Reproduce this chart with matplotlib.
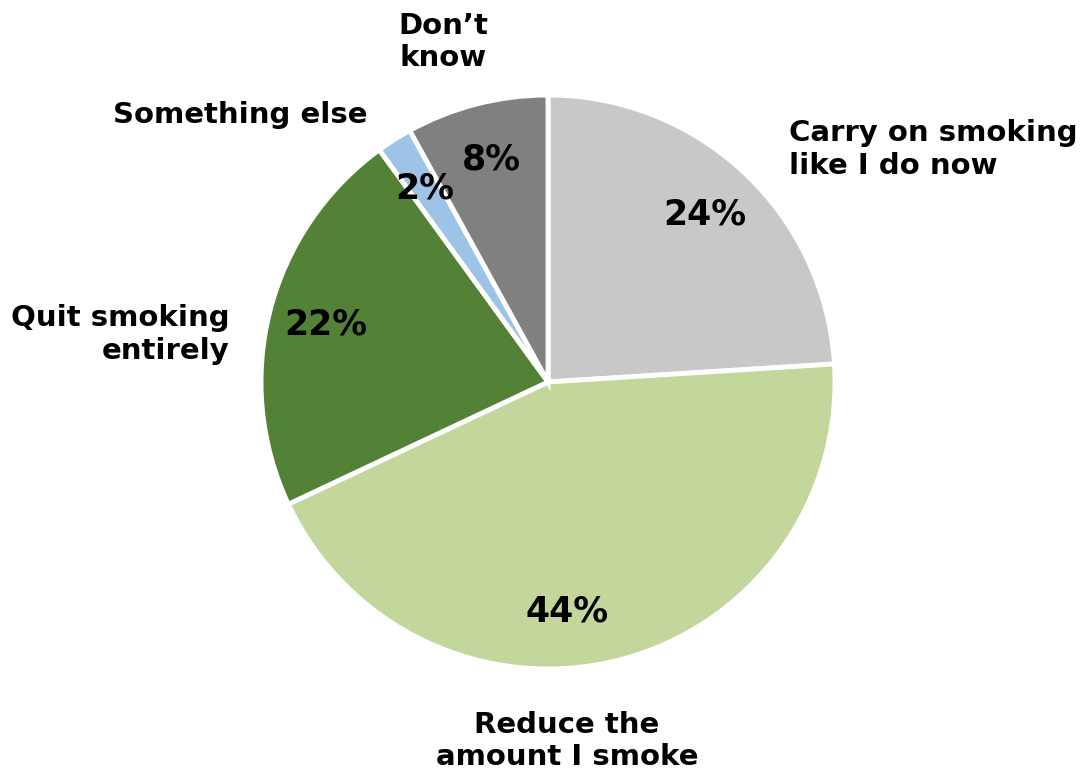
import matplotlib
matplotlib.use("Agg")
import matplotlib.pyplot as plt

plt.rcParams["font.family"] = ["DejaVu Sans"]

labels = ["Carry on smoking\nlike I do now", "Reduce the\namount I smoke",
          "Quit smoking\nentirely", "Something else", "Don\u2019t\nknow"]
shares = [24, 44, 22, 2, 8]
colors = ["#c8c8c8", "#c3d69b", "#538135", "#9dc3e6", "#808080"]

# label placement, in units of pie radius (x, y, ha)
label_pos = [(0.84, 0.81, "left"), (0.066, -1.25, "center"), (-1.11, 0.165, "right"),
             (-0.63, 0.93, "right"), (-0.366, 1.185, "center")]

fig = plt.figure(figsize=(10.84, 7.71), dpi=100)
ax = fig.add_axes([0.2408, 0.1323, 0.5295, 0.7445])

wedges, texts, autotexts = ax.pie(
    shares, colors=colors, startangle=90, counterclock=False, radius=1,
    autopct="%d%%", pctdistance=0.80,
    wedgeprops=dict(edgecolor="white", linewidth=3.5),
    textprops=dict(fontsize=25, fontweight="bold", color="black"),
)
# the 44% label sits lower in the reference
autotexts[1].set_position((0.066, -0.80))

for lab, (x, y, ha) in zip(labels, label_pos):
    ax.text(x, y, lab, ha=ha, va="center", multialignment=ha, fontsize=21,
            fontweight="bold", linespacing=1.2, clip_on=False)

ax.set_xlim(-1, 1)
ax.set_ylim(-1, 1)
ax.set_aspect("equal")
ax.axis("off")

fig.savefig("out.png", dpi=100)
